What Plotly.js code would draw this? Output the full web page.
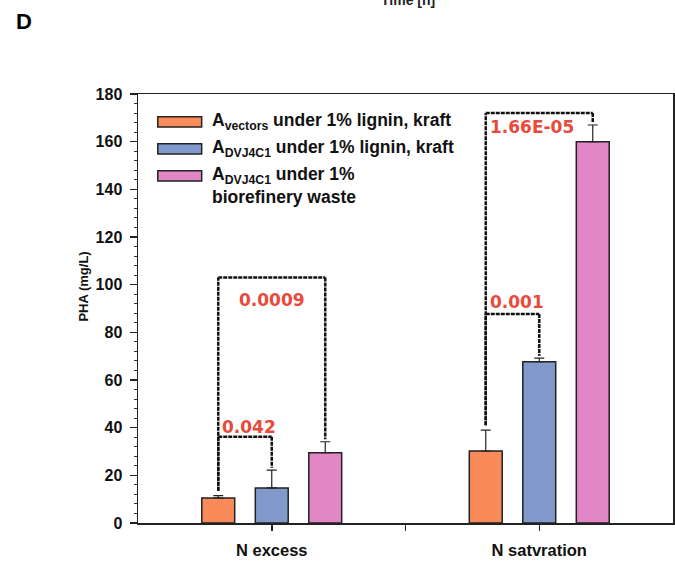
<!DOCTYPE html>
<html>
<head>
<meta charset="utf-8">
<script src="https://cdn.plot.ly/plotly-3.0.1.min.js"></script>
<style>html,body{margin:0;padding:0;background:#fff;}#chart{width:675px;height:562px;}</style>
</head>
<body>
<div id="chart"></div>
<script>
// ---- data ----
const categories = ['N excess', 'N satvration'];
const seriesNames = [
  'A<sub>vectors</sub> under 1% lignin, kraft',
  'A<sub>DVJ4C1</sub> under 1% lignin, kraft',
  'A<sub>DVJ4C1</sub> under 1%'
];
const seriesNameLine2 = ['', '', 'biorefinery waste'];
const seriesColors = ['#f98b5b', '#8199cb', '#e386c6'];
const vectorsValues = [10.5, 30.2];
const vectorsErrors = [1.0, 8.8];
const dvjLigninValues = [14.7, 67.7];
const dvjLigninErrors = [7.5, 1.5];
const dvjWasteValues = [29.5, 160.0];
const dvjWasteErrors = [4.6, 7.0];
const yTicks = [0, 20, 40, 60, 80, 100, 120, 140, 160, 180];

// significance brackets
const bracketCat = [0, 0, 1, 1];
const bracketFrom = [0, 0, 0, 0];
const bracketTo = [1, 2, 1, 2];
const bracketHeight = [36.2, 103, 87.7, 172];
const pLabels = ['0.042', '0.0009', '0.001', '1.66E-05'];

// label styling (pixel offsets from bracket line, alignment)
const pLabelShift = [10, -22, 12, -14];
const pLabelAlign = ['left', 'center', 'left', 'left'];

// ---- build ----
const FONT = 'Liberation Sans, Arial, sans-serif';
const values = [vectorsValues, dvjLigninValues, dvjWasteValues];
const errors = [vectorsErrors, dvjLigninErrors, dvjWasteErrors];
const catIdx = categories.map((c, i) => i);
const bargap = 0.4;
const slot = (1 - bargap) / values.length;
const barX = (cat, s) => cat + (s - (values.length - 1) / 2) * slot;

const traces = values.map((v, s) => ({
  type: 'bar',
  x: catIdx,
  y: v,
  name: seriesNames[s],
  showlegend: false,
  marker: {color: seriesColors[s], line: {color: '#222', width: 1.5}},
  error_y: {type: 'data', symmetric: false, array: errors[s], arrayminus: v.map(() => 0),
            color: '#222', thickness: 1.2, width: 5}
}));

const shapes = [];
const annotations = [];
const red = '#e84a3c';
bracketCat.forEach((c, i) => {
  const f = bracketFrom[i], t = bracketTo[i], h = bracketHeight[i];
  const x0 = barX(c, f), x1 = barX(c, t);
  const y0 = values[f][c] + errors[f][c] + 2;
  const y1 = values[t][c] + errors[t][c] + 1;
  const ln = {color: '#111', width: 2.5, dash: '4px,1px'};
  shapes.push({type: 'line', xref: 'x', yref: 'y', x0: x0, x1: x0, y0: y0, y1: h, line: ln});
  shapes.push({type: 'line', xref: 'x', yref: 'y', x0: x0, x1: x1, y0: h, y1: h, line: ln});
  shapes.push({type: 'line', xref: 'x', yref: 'y', x0: x1, x1: x1, y0: h, y1: Math.min(y1, h), line: ln});
  const ax = pLabelAlign[i] === 'center' ? (x0 + x1) / 2 : x0 + 0.008;
  annotations.push({
    xref: 'x', yref: 'y', x: ax, y: h, text: '<b>' + pLabels[i] + '</b>',
    xanchor: pLabelAlign[i], yanchor: 'middle', yshift: pLabelShift[i],
    showarrow: false, font: {family: 'DejaVu Sans, sans-serif', size: 17, color: red}
  });
});

// custom legend (paper coords)
const legTop = [0.935, 0.872, 0.809];
values.forEach((v, s) => {
  shapes.push({type: 'rect', xref: 'paper', yref: 'paper', x0: 0.037, x1: 0.119,
    y0: legTop[s] - 0.012, y1: legTop[s] + 0.012,
    fillcolor: seriesColors[s], line: {color: '#222', width: 1.5}});
  annotations.push({xref: 'paper', yref: 'paper', x: 0.134, y: legTop[s], xanchor: 'left', yanchor: 'middle',
    text: '<b>' + seriesNames[s] + '</b>', showarrow: false,
    font: {family: FONT, size: 17.5, color: '#111'}});
  if (seriesNameLine2[s]) {
    annotations.push({xref: 'paper', yref: 'paper', x: 0.134, y: legTop[s] - 0.049, xanchor: 'left', yanchor: 'middle',
      text: '<b>' + seriesNameLine2[s] + '</b>', showarrow: false,
      font: {family: FONT, size: 17.5, color: '#111'}});
  }
});

annotations.push({xref: 'paper', yref: 'paper', x: -0.232, y: 1.168, xanchor: 'left', yanchor: 'middle',
  text: '<b>D</b>', showarrow: false, font: {family: FONT, size: 22, color: '#000'}});
annotations.push({xref: 'paper', yref: 'paper', x: 0.505, y: 1.219, xanchor: 'center', yanchor: 'middle',
  text: '<b>Time [h]</b>', showarrow: false, font: {family: FONT, size: 14, color: '#222'}});
annotations.push({xref: 'paper', yref: 'paper', x: -0.102, y: 0.552, xanchor: 'center', yanchor: 'middle',
  textangle: -90, text: '<b>PHA (mg/L)</b>', showarrow: false, font: {family: FONT, size: 13, color: '#111'}});

const layout = {
  width: 675, height: 562,
  margin: {l: 138, r: 2, t: 94, b: 39},
  paper_bgcolor: '#fff', plot_bgcolor: '#fff',
  barmode: 'group', bargap: bargap, bargroupgap: 0.385,
  font: {family: FONT, color: '#111'},
  xaxis: {
    type: 'linear', range: [-0.5, 1.5],
    tickvals: [0, 0.5, 1], ticktext: ['<b>' + categories[0] + '</b>', '', '<b>' + categories[1] + '</b>'],
    ticks: 'outside', ticklen: 6, tickwidth: 1.5, tickcolor: '#222', ticklabelstandoff: 6,
    tickfont: {size: 16.5, color: '#111'},
    showline: true, linecolor: '#222', linewidth: 1.5, mirror: true,
    showgrid: false, zeroline: false
  },
  yaxis: {
    range: [0, 180], tickvals: yTicks, ticktext: yTicks.map(t => '<b>' + t + '</b>'),
    ticks: 'outside', ticklen: 7, tickwidth: 1.5, tickcolor: '#222', ticklabelstandoff: 4,
    minor: {dtick: 4, ticks: 'outside', ticklen: 3, tickwidth: 1, tickcolor: '#333'},
    tickfont: {size: 16, color: '#111'},
    showline: true, linecolor: '#222', linewidth: 1.5, mirror: true,
    showgrid: false, zeroline: false
  },
  shapes: shapes,
  annotations: annotations
};

Plotly.newPlot('chart', traces, layout, {displayModeBar: false, staticPlot: true});
</script>
</body>
</html>
